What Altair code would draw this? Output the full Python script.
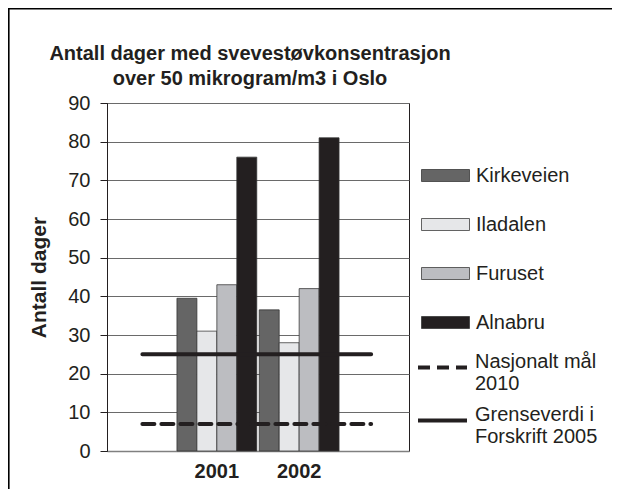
import altair as alt
import pandas as pd

# ---- data ----
years = ["2001", "2002"]
sites = ["Kirkeveien", "Iladalen", "Furuset", "Alnabru"]
days_2001 = [39.5, 31, 43, 76]
days_2002 = [36.5, 28, 42, 81]
site_colors = ["#656565", "#e6e7e9", "#bcbdc1", "#231f20"]

limit_names = ["Nasjonalt mål 2010", "Grenseverdi i Forskrift 2005"]
limit_values = [7, 25]
# horizontal extent of the limit lines, in units of category steps
limit_start = [0.43, 0.43]
limit_end = [3.21, 3.21]

title_lines = ["Antall dager med svevestøvkonsentrasjon", "over 50 mikrogram/m3 i Oslo"]
y_ticks = list(range(0, 91, 10))

FONT = "Liberation Sans"
FS = 20
W, H = 302, 348

rows = []
for yr, vals in zip(years, [days_2001, days_2002]):
    for s, v in zip(sites, vals):
        rows.append({"year": yr, "site": s, "days": v})
bar_df = pd.DataFrame(rows)

lim_df = pd.DataFrame({
    "name": limit_names,
    "value": limit_values,
    "x0": limit_start,
    "x1": limit_end,
})

y_axis = alt.Axis(
    values=y_ticks, title="Antall dager", titleFontSize=21, titleFont=FONT,
    titleFontWeight="bold", titleColor="#231f20", titlePadding=18,
    labelFontSize=FS, labelFont=FONT, labelColor="#231f20", labelPadding=10,
    tickSize=7, tickColor="#231f20", domainColor="#231f20",
    grid=True, gridColor="#6a6a6a", gridWidth=1.2,
)
y_scale = alt.Scale(domain=[0, 90], nice=False)

border = alt.Chart(pd.DataFrame({"k": [0]})).mark_rect(
    fillOpacity=0, stroke="#000", strokeWidth=1.6
).encode(
    x=alt.value(-98.2), x2=alt.value(W + 400),
    y=alt.value(-94.2), y2=alt.value(H + 300),
)

bars = alt.Chart(bar_df).mark_bar(stroke="#333", strokeWidth=0.75).encode(
    x=alt.X(
        "year:N",
        sort=years,
        scale=alt.Scale(paddingInner=0.03, paddingOuter=0.85),
        axis=alt.Axis(
            title=None, labelAngle=0, labelFontWeight="bold", labelFontSize=FS,
            labelFont=FONT, labelColor="#231f20", ticks=False, tickSize=0,
            domainColor="#808080", domainWidth=1.5, labelPadding=10, grid=False,
        ),
    ),
    xOffset=alt.XOffset("site:N", sort=sites, scale=alt.Scale(paddingInner=0, paddingOuter=0)),
    y=alt.Y("days:Q", scale=y_scale, axis=y_axis),
    fill=alt.Fill(
        "site:N",
        sort=sites,
        scale=alt.Scale(domain=sites, range=site_colors),
        legend=alt.Legend(
            title=None, orient="none", legendX=314, legendY=48,
            symbolType="M-1,-0.25H1V0.25H-1Z", symbolSize=2304,
            symbolStrokeColor="#333", symbolStrokeWidth=0.75, symbolOpacity=1,
            labelFontSize=FS, labelFont=FONT, labelColor="#231f20",
            labelOffset=6, rowPadding=14, padding=0,
        ),
    ),
)

rules = alt.Chart(lim_df).mark_rule(strokeWidth=4, color="#231f20", strokeCap="round").encode(
    x=alt.X("x0:Q", scale=alt.Scale(domain=[0, 3.67]), axis=None),
    x2="x1:Q",
    y=alt.Y("value:Q", scale=y_scale, axis=y_axis),
    strokeDash=alt.StrokeDash(
        "name:N",
        sort=limit_names,
        scale=alt.Scale(domain=limit_names, range=[[12, 7], [1, 0]]),
        legend=alt.Legend(
            title=None, orient="none", legendX=309, legendY=238,
            symbolType="stroke", symbolSize=2401, symbolStrokeWidth=4,
            symbolStrokeColor="#231f20",
            labelExpr="datum.label == 'Nasjonalt mål 2010' ? ['Nasjonalt mål', '2010'] : ['Grenseverdi i', 'Forskrift 2005']",
            labelFontSize=FS, labelFont=FONT, labelColor="#231f20",
            labelBaseline="alphabetic",
            labelOffset=6, rowPadding=-9, padding=0,
        ),
    ),
)

chart = alt.layer(border, bars, rules).resolve_scale(x="independent").properties(
    width=W,
    height=H,
    autosize=alt.AutoSizeParams(type="none"),
    padding={"left": 99, "top": 95, "right": 203, "bottom": 38},
    title=alt.TitleParams(
        text=title_lines, fontSize=FS, font=FONT, fontWeight="bold", color="#231f20",
        anchor="middle", frame="group", dx=-8, dy=81, offset=0, lineHeight=25,
    ),
).configure_view(stroke="#231f20", strokeWidth=1)

chart.save("out.html", embed_options={"renderer": "svg", "actions": False})
